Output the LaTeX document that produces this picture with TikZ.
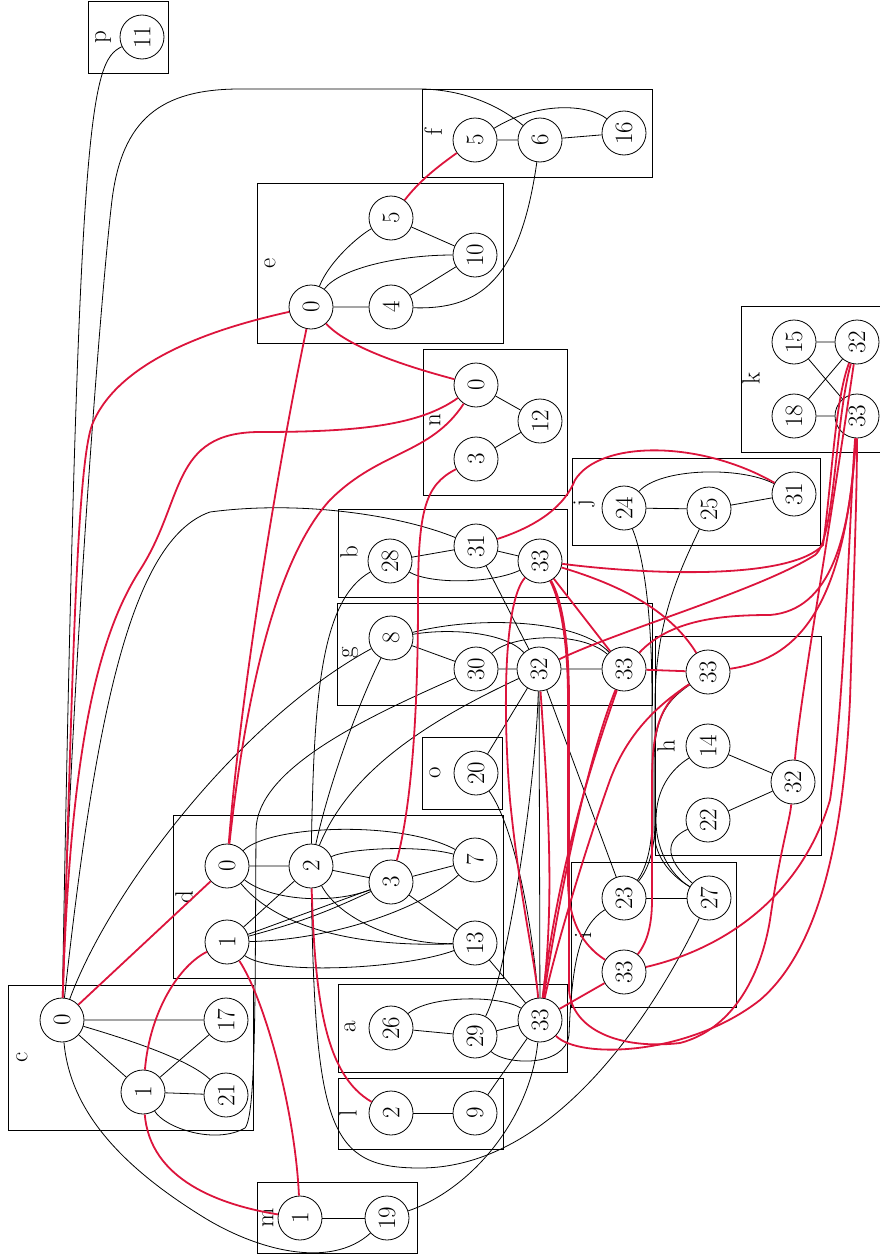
\documentclass[tikz,border=0pt]{standalone}
\usetikzlibrary{positioning}
\definecolor{crim}{RGB}{220,20,60}
\begin{document}
\begin{tikzpicture}[x=1pt,y=-1pt,line width=0.8pt,
  every node/.style={font=\fontsize{25}{30}\selectfont,rotate=90},
  vtx/.style={draw,circle,fill=white,inner sep=0pt,minimum size=44pt,line width=0.8pt},
  clus/.style={draw,line width=0.8pt},
  hit/.style={crim,line width=1.8pt}]
\useasboundingbox (0,0) rectangle (879,1258);
% clusters
\foreach \n/\xa/\ya/\xb/\yb/\lx/\ly in {p/88/1/168/73/103/37, f/422/89/652/177/433/132,
  e/257/183/503/343/270/263, k/741/306/895/452/751/378, n/423/349/567/495/435/420,
  j/572/458/820/545/584/503, b/338/509/567/597/349/552, g/337/603/652/705/350/653,
  h/655/636/821/855/666/746, o/422/737/502/809/435/773, d/173/815/503/978/184/897,
  i/571/862/736/1007/583/935, c/8/985/253/1130/22/1057, a/338/984/567/1072/350/1027,
  l/338/1078/503/1149/348/1113, m/257/1182/417/1253/268/1218}{
  \draw[clus] (\xa,\ya) rectangle (\xb,\yb);
  \node (lbl-\n) at (\lx,\ly) {\n};
}
% nodes
\foreach \nm/\px/\py/\t in {p11/142/37/11, f5/475/140/5, f6/540/140/6, f16/624/133/16,
  e5/391/218/5, e10/475/255/10, e0/311/307/0, e4/391/307/4,
  k15/794/342/15, k32/857/342/32, k18/794/416/18, k33/857/416/33,
  n0/476/385/0, n12/540/421/12, n3/476/459/3,
  j24/624/508/24, j25/709/509/25, j31/794/494/31,
  b28/390/561/28, b31/476/546/31, b33/540/561/33,
  g8/391/638/8, g30/476/669/30, g32/539/669/32, g33/624/669/33,
  h33/708/672/33, h14/708/746/14, h32/793/782/32, h22/708/820/22,
  o20/476/773/20,
  d0/227/866/0, d2/311/866/2, d3/391/882/3, d7/475/860/7, d1/227/942/1, d13/475/943/13,
  i23/624/898/23, i27/709/898/27, i33/624/972/33,
  c0/62/1020/0, c1/143/1092/1, c17/226/1020/17, c21/226/1095/21,
  a26/391/1028/26, a29/475/1036/29, a33/540/1020/33,
  l2/391/1113/2, l9/475/1113/9, m1/300/1218/1, m19/387/1218/19}{
  \node[vtx] (\nm) at (\px,\py) {\t};
}
% edges inside the clusters
\draw (f5) -- (f6) (f6) -- (f16);
\draw (f5) .. controls (540,100) and (590,105) .. (f16);
\draw (e0) -- (e4) (e5) -- (e10) (e4) -- (e10);
\draw (e0) .. controls (330,260) and (360,235) .. (e5);
\draw (e0) .. controls (340,268) and (400,255) .. (e10);
\draw (k15) -- (k32) (k18) -- (k33) (k15) -- (k33) (k18) -- (k32);
\draw (n0) -- (n12) (n3) -- (n12);
\draw (j24) -- (j25) (j25) -- (j31);
\draw (j24) .. controls (660,468) and (740,466) .. (j31);
\draw (b28) -- (b31) (b31) -- (b33);
\draw (b28) .. controls (430,584) and (490,584) .. (b33);
\draw (g8) -- (g30) (g30) -- (g32) (g32) -- (g33);
\draw (g8) .. controls (450,628) and (505,632) .. (g32);
\draw (g8) .. controls (480,615) and (580,620) .. (g33);
\draw (g30) .. controls (510,635) and (580,630) .. (g33);
\draw (h14) -- (h32) (h22) -- (h32);
\draw (d0) -- (d2) (d1) -- (d2) (d1) -- (d3) (d2) -- (d3) (d3) -- (d7) (d3) -- (d13);
\draw (d1) to[bend right=5] (d3);
\draw (d0) .. controls (270,900) and (330,905) .. (d3);
\draw (d0) .. controls (270,825) and (400,820) .. (d7);
\draw (d0) .. controls (270,920) and (340,948) .. (d13);
\draw (d1) .. controls (330,940) and (420,910) .. (d7);
\draw (d1) .. controls (270,975) and (400,970) .. (d13);
\draw (d2) .. controls (350,848) and (420,845) .. (d7);
\draw (d2) .. controls (340,920) and (400,945) .. (d13);
\draw (i23) -- (i27);
\draw (c0) -- (c17) (c0) -- (c1) (c1) -- (c17) (c1) -- (c21);
\draw (c0) .. controls (130,1040) and (190,1060) .. (c21);
\draw (a26) -- (a29) (a29) -- (a33);
\draw (a26) .. controls (430,995) and (500,995) .. (a33);
\draw (l2) -- (l9) (m1) -- (m19);
% black edges between clusters
\draw (p11) .. controls (90,62) and (78,110) .. (c0);
\draw (c0) .. controls (70,700) and (100,300) .. (112,200) .. controls (122,120) and (160,89) .. (240,89) -- (422,89) .. controls (470,90) and (505,110) .. (f6);
\draw (c0) .. controls (95,720) and (130,540) .. (210,512) .. controls (300,500) and (400,515) .. (b31);
\draw (c0) .. controls (110,890) and (240,720) .. (g8);
\draw (c0) .. controls (70,1110) and (120,1165) .. (200,1215) .. controls (255,1250) and (330,1270) .. (m19);
\draw (c1) .. controls (165,1128) and (215,1145) .. (245,1128) .. controls (256,1115) and (255,1000) .. (256,830) .. controls (257,770) and (360,720) .. (g30);
\draw (e4) .. controls (480,310) and (520,280) .. (f6);
\draw (d2) .. controls (314,700) and (320,600) .. (b28);
\draw (d2) .. controls (330,780) and (360,700) .. (g8);
\draw (d2) .. controls (350,770) and (430,720) .. (g32);
\draw (d2) .. controls (315,1130) and (330,1168) .. (420,1168) .. controls (560,1168) and (660,1000) .. (i27);
\draw (d13) -- (a33) (l9) -- (a33);
\draw (a29) .. controls (505,1065) and (565,1068) .. (569,1035) .. controls (572,960) and (580,925) .. (i23);
\draw (a29) .. controls (505,980) and (535,800) .. (g32);
\draw (m19) .. controls (470,1190) and (530,1120) .. (a33);
\draw (o20) .. controls (510,820) and (530,900) .. (a33);
\draw (g32) -- (a33) (g32) -- (o20) (g32) -- (i23) (b31) -- (g32);
\draw (j24) .. controls (645,560) and (652,620) .. (652,700) -- (652,820) .. controls (652,850) and (645,870) .. (i23);
\draw (j25) .. controls (680,570) and (656,620) .. (655,700) -- (655,820) .. controls (655,850) and (648,870) .. (i23);
\draw (h33) .. controls (668,700) and (655,715) .. (654,760) -- (654,830) .. controls (654,860) and (675,878) .. (i27);
\draw (h14) .. controls (670,770) and (656,790) .. (656,820) .. controls (656,855) and (675,878) .. (i27);
\draw (h22) .. controls (675,835) and (655,850) .. (i27);
% red edges
\draw[hit] (c0) .. controls (72,700) and (76,470) .. (92,425) .. controls (120,355) and (230,325) .. (e0);
\draw[hit] (c0) .. controls (70,760) and (95,640) .. (140,570) .. controls (185,500) and (170,432) .. (260,432) .. controls (360,432) and (420,425) .. (n0);
\draw[hit] (c0) -- (d0);
\draw[hit] (d0) .. controls (240,700) and (275,480) .. (e0);
\draw[hit] (d0) .. controls (245,700) and (275,560) .. (330,500) .. controls (380,450) and (430,455) .. (n0);
\draw[hit] (d1) .. controls (180,965) and (150,1010) .. (c1);
\draw[hit] (d1) .. controls (265,1000) and (295,1110) .. (m1);
\draw[hit] (c1) .. controls (150,1180) and (220,1205) .. (m1);
\draw[hit] (d2) .. controls (315,1000) and (325,1075) .. (l2);
\draw[hit] (n3) .. controls (425,485) and (418,510) .. (418,600) .. controls (418,760) and (405,830) .. (d3);
\draw[hit] (e0) .. controls (350,350) and (420,370) .. (n0);
\draw[hit] (e5) .. controls (420,180) and (440,165) .. (f5);
\draw[hit] (b31) .. controls (540,525) and (565,505) .. (575,480) .. controls (600,440) and (700,440) .. (j31);
\draw[hit] (b33) .. controls (505,600) and (502,700) .. (510,800) .. controls (520,900) and (535,960) .. (a33);
\draw[hit] (b33) -- (g33) (g33) -- (h33) (i33) -- (a33);
\draw[hit] (b33) .. controls (620,585) and (670,610) .. (h33);
\draw[hit] (b33) .. controls (650,575) and (790,580) .. (823,545) .. controls (832,480) and (835,400) .. (k32);
\draw[hit] (b33) .. controls (560,600) and (568,640) .. (568,700) -- (568,880) .. controls (568,930) and (590,950) .. (i33);
\draw[hit] (b33) .. controls (562,600) and (569,640) .. (569,700) -- (569,990) .. controls (572,1030) and (620,1050) .. (680,1043) .. controls (730,1030) and (760,980) .. (770,920) .. controls (780,850) and (790,820) .. (h32);
\draw[hit] (g32) .. controls (548,800) and (555,900) .. (a33);
\draw[hit] (g32) .. controls (620,630) and (760,590) .. (815,555) .. controls (835,540) and (835,420) .. (k32);
\draw[hit] (g33) .. controls (600,740) and (560,850) .. (a33);
\draw[hit] (g33) .. controls (593,745) and (565,860) .. (a33);
\draw[hit] (g33) .. controls (670,620) and (720,615) .. (770,615) .. controls (830,610) and (850,540) .. (k33);
\draw[hit] (h33) .. controls (790,660) and (845,620) .. (k33);
\draw[hit] (h33) .. controls (665,700) and (652,720) .. (652,780) -- (652,900) .. controls (652,930) and (645,945) .. (i33);
\draw[hit] (h33) .. controls (650,710) and (625,740) .. (610,780) .. controls (585,850) and (555,950) .. (a33);
\draw[hit] (h32) .. controls (800,700) and (825,560) .. (k32);
\draw[hit] (i33) .. controls (720,950) and (800,900) .. (830,800) .. controls (845,700) and (850,500) .. (k33);
\draw[hit] (a33) .. controls (580,1060) and (690,1055) .. (760,1000) .. controls (830,940) and (845,800) .. (850,700) .. controls (853,600) and (857,500) .. (k33);
\end{tikzpicture}
\end{document}
